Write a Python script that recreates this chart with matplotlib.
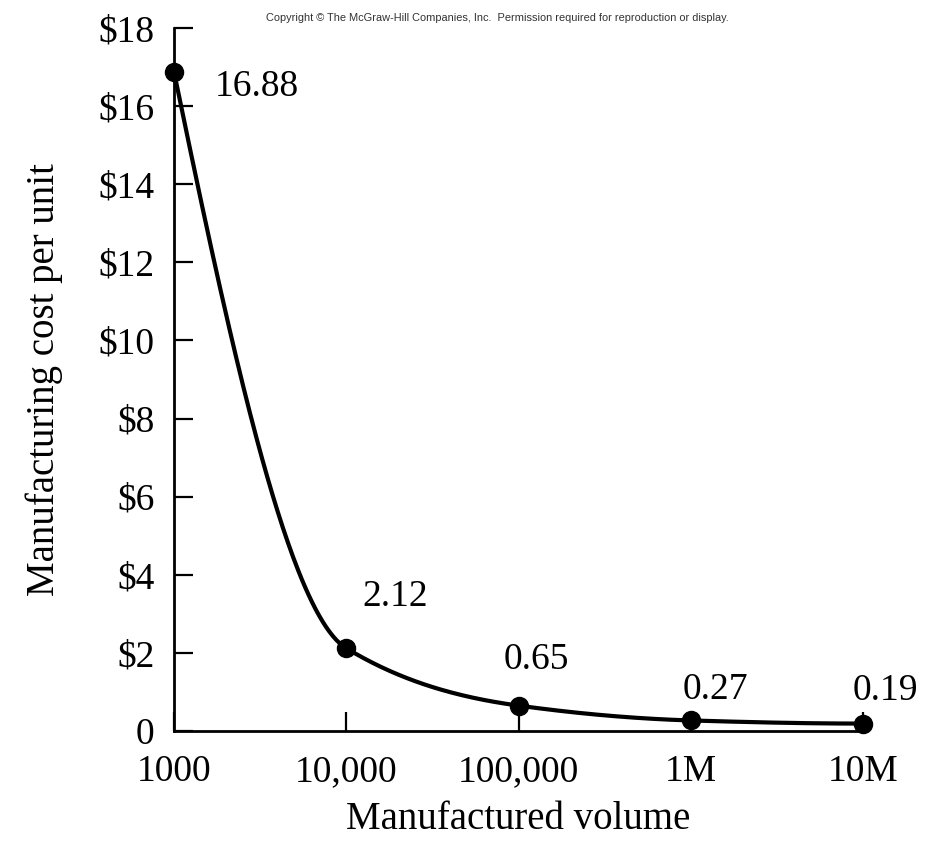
import numpy as np
import matplotlib
matplotlib.use("Agg")
import matplotlib.pyplot as plt

# Data
volumes = [1e3, 1e4, 1e5, 1e6, 1e7]
costs = [16.88, 2.12, 0.65, 0.27, 0.19]
cost_labels = ["16.88", "2.12", "0.65", "0.27", "0.19"]
x_tick_labels = ["1000", "10,000", "100,000", "1M", "10M"]
y_ticks = [0, 2, 4, 6, 8, 10, 12, 14, 16, 18]
y_tick_labels = ["0", "$2", "$4", "$6", "$8", "$10", "$12", "$14", "$16", "$18"]

plt.rcParams['font.family'] = ['Liberation Serif', 'DejaVu Serif']

def pchip(xk, yk, xq):
    xk = np.asarray(xk, float); yk = np.asarray(yk, float)
    h = np.diff(xk); d = np.diff(yk) / h
    n = len(xk); m = np.zeros(n)
    for k in range(1, n - 1):
        if d[k - 1] * d[k] > 0:
            w1 = 2 * h[k] + h[k - 1]; w2 = h[k] + 2 * h[k - 1]
            m[k] = (w1 + w2) / (w1 / d[k - 1] + w2 / d[k])
    def endslope(h0, h1, d0, d1):
        s = ((2 * h0 + h1) * d0 - h0 * d1) / (h0 + h1)
        if np.sign(s) != np.sign(d0):
            s = 0
        elif np.sign(d0) != np.sign(d1) and abs(s) > abs(3 * d0):
            s = 3 * d0
        return s
    m[0] = endslope(h[0], h[1], d[0], d[1])
    m[-1] = endslope(h[-1], h[-2], d[-1], d[-2])
    out = np.empty_like(xq)
    for i, x in enumerate(xq):
        k = min(max(np.searchsorted(xk, x) - 1, 0), n - 2)
        t = (x - xk[k]) / h[k]
        h00 = 2 * t**3 - 3 * t**2 + 1; h10 = t**3 - 2 * t**2 + t
        h01 = -2 * t**3 + 3 * t**2; h11 = t**3 - t**2
        out[i] = h00 * yk[k] + h10 * h[k] * m[k] + h01 * yk[k + 1] + h11 * h[k] * m[k + 1]
    return out

fig = plt.figure(figsize=(9.36, 8.41), dpi=100)
ax = fig.add_axes([174 / 936, 1 - 731 / 841, (863 - 174) / 936, (731 - 28) / 841])

lx = np.log10(volumes)
xq = np.linspace(lx[0], lx[-1], 400)
yq = pchip(lx, costs, xq)
ax.plot(10**xq, yq, color='black', lw=3.0, clip_on=False, zorder=3)
ax.plot(volumes, costs, 'o', color='black', ms=13, clip_on=False, zorder=4)

ax.set_xscale('log')
ax.set_xlim(1e3, 1e7)
ax.set_ylim(0, 18)
ax.set_xticks(volumes)
ax.set_xticklabels(x_tick_labels)
ax.minorticks_off()
ax.set_yticks(y_ticks)
ax.set_yticklabels(y_tick_labels)

for s in ['top', 'right']:
    ax.spines[s].set_visible(False)
for s in ['left', 'bottom']:
    ax.spines[s].set_linewidth(2.0)

ax.tick_params(axis='both', direction='in', length=14, width=1.6, labelsize=27, pad=14)
ax.tick_params(axis='x', pad=17)

offsets = [(41, -15, 'left'), (16, 51, 'left'), (18, 46, 'center'), (25, 31, 'center'), (22, 33, 'center')]
for v, c, lab, (dx, dy, ha) in zip(volumes, costs, cost_labels, offsets):
    ax.annotate(lab, (v, c), xytext=(dx, dy), textcoords='offset pixels',
                ha=ha, va='center', fontsize=27, annotation_clip=False)

ax.set_ylabel("Manufacturing cost per unit", fontsize=28)
ax.set_xlabel("Manufactured volume", fontsize=28)
ax.yaxis.set_label_coords((44 - 174) / (863 - 174), 0.5)
ax.yaxis.label.set_va('center')
ax.xaxis.label.set_va('baseline')
ax.xaxis.set_label_coords(0.5, -(829 - 731) / (731 - 28))

fig.text(497 / 936, 1 - 18 / 841,
         "Copyright \u00a9 The McGraw-Hill Companies, Inc.  Permission required for reproduction or display.",
         fontsize=7.9, family=['Liberation Sans', 'DejaVu Sans'], color='#333333',
         ha='center', va='center')

fig.savefig("out.png", dpi=100)
